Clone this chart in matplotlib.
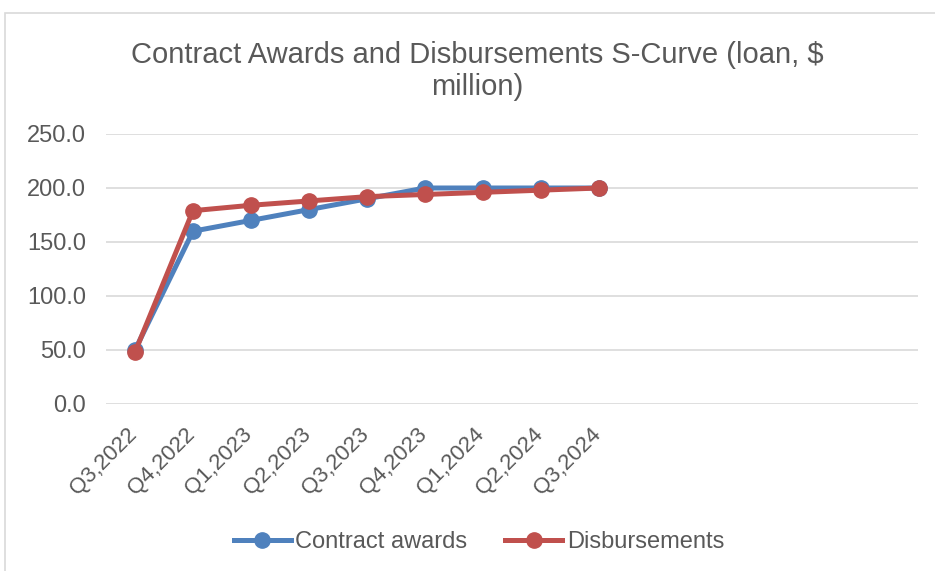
import numpy as np
import matplotlib.pyplot as plt
from matplotlib.patches import Rectangle
from matplotlib.transforms import ScaledTranslation

plt.rcParams["font.family"] = ["Liberation Sans", "DejaVu Sans"]

# --- Data ---
quarters = ["Q3,2022", "Q4,2022", "Q1,2023", "Q2,2023", "Q3,2023",
            "Q4,2023", "Q1,2024", "Q2,2024", "Q3,2024"]
contract_awards = [50, 160, 170, 180, 190, 200, 200, 200, 200]
disbursements = [48, 179, 184, 188, 192, 194, 196, 198, 200]
n_slots = 14  # category axis keeps room for later quarters
y_ticks = [0, 50, 100, 150, 200, 250]

text_color = "#595959"
blue = "#4F81BD"
red = "#C0504D"

fig = plt.figure(figsize=(9.35, 5.71), dpi=100)
ax = fig.add_axes([106 / 935, 1 - 404 / 571, 812 / 935, 270 / 571])

# chart area border (light grey frame)
fig.patches.append(Rectangle((5 / 935, -0.1), 1.2, 1 - 13 / 571 + 0.1,
                             transform=fig.transFigure, fill=False,
                             edgecolor="#D9D9D9", linewidth=1.2))

x = np.arange(len(quarters))
ax.plot(x, contract_awards, color=blue, linewidth=3.6, marker="o",
        markersize=11, label="Contract awards", zorder=3)
ax.plot(x, disbursements, color=red, linewidth=3.6, marker="o",
        markersize=11, label="Disbursements", zorder=4)

ax.set_xlim(-0.5, n_slots - 0.5)
ax.set_ylim(0, 250)
ax.set_yticks(y_ticks)
ax.set_yticklabels([f"{v:.1f}" for v in y_ticks], fontsize=17)
ax.set_xticks(x)
ax.set_xticklabels(quarters, rotation=45, ha="right", rotation_mode="anchor",
                   fontsize=16)

ax.grid(axis="y", color="#D9D9D9", linewidth=1.2)
ax.set_axisbelow(True)
for s in ax.spines.values():
    s.set_visible(False)
ax.tick_params(axis="both", length=0, colors=text_color)
ax.tick_params(axis="y", pad=14.5)
ax.tick_params(axis="x", pad=11)

# nudge rotated labels so their end sits at the category position
shift = ScaledTranslation(-9 / 100, -5 / 100, fig.dpi_scale_trans)
for lbl in ax.get_xticklabels():
    lbl.set_transform(lbl.get_transform() + shift)

fig.text(477 / 935, 1 - 71 / 571, "Contract Awards and Disbursements S-Curve (loan, $\nmillion)",
         ha="center", va="center", fontsize=21, color=text_color, linespacing=1.18)

leg = fig.legend(loc="center", bbox_to_anchor=(479 / 935, 1 - 542 / 571), ncol=2,
                 frameon=False, fontsize=17, handlelength=2.4, handletextpad=0.2,
                 columnspacing=1.6)
for t in leg.get_texts():
    t.set_color(text_color)

plt.savefig("out.png", dpi=100)
plt.close()
